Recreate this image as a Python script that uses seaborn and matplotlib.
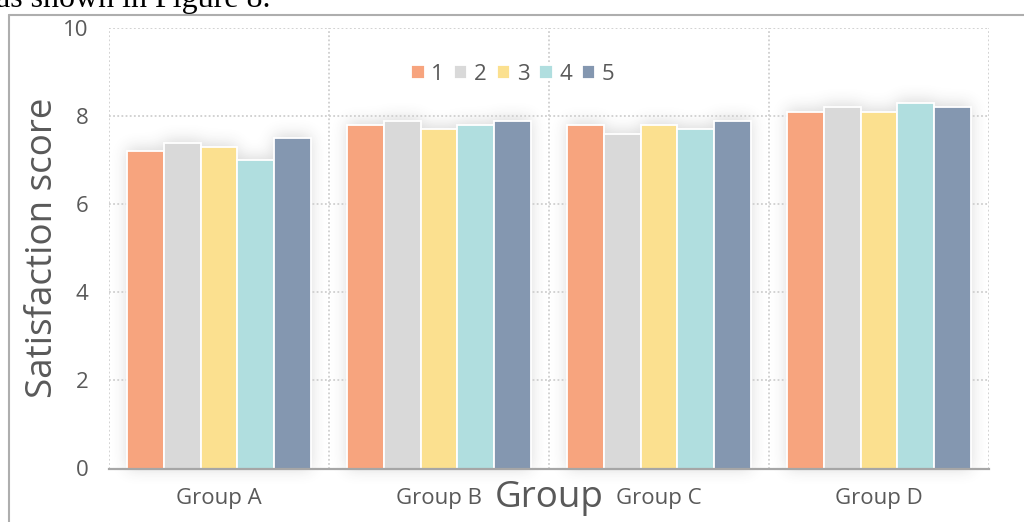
import numpy as np
import pandas as pd
import matplotlib
matplotlib.use("Agg")
import matplotlib.pyplot as plt
from matplotlib.lines import Line2D
import seaborn as sns

# Satisfaction scores per group for five response sets
groups = ["Group A", "Group B", "Group C", "Group D"]
series = ["1", "2", "3", "4", "5"]
scores_1 = [7.2, 7.8, 7.8, 8.1]
scores_2 = [7.4, 7.9, 7.6, 8.2]
scores_3 = [7.3, 7.7, 7.8, 8.1]
scores_4 = [7.0, 7.8, 7.7, 8.3]
scores_5 = [7.5, 7.9, 7.9, 8.2]
y_ticks = [0, 2, 4, 6, 8, 10]

colors = ["#F7A47E", "#D9D9D9", "#FBE08F", "#B0DEDF", "#8497B0"]
text_gray = "#595959"

rows = []
for s, vals in zip(series, [scores_1, scores_2, scores_3, scores_4, scores_5]):
    for g, v in zip(groups, vals):
        rows.append({"group": g, "series": s, "score": v})
df = pd.DataFrame(rows)

sns.set_theme(style="white")
plt.rcParams["font.family"] = ["Open Sans", "DejaVu Sans"]

W, H = 1024, 522
fig = plt.figure(figsize=(W / 100, H / 100), dpi=100)
fig.patch.set_facecolor("white")
ax = fig.add_axes([109 / W, 1 - 468.5 / H, 880 / W, 440.5 / H])
ax.patch.set_alpha(0)

sns.barplot(data=df, x="group", y="score", hue="series", order=groups,
            hue_order=series, palette=colors, saturation=1, width=0.84,
            edgecolor="white", linewidth=1.3, errorbar=None, ax=ax, zorder=3)

ax.set_xlim(-0.5, len(groups) - 0.5)
ax.set_ylim(0, 10)
ax.set_yticks(y_ticks)
ax.set_xticks(np.arange(-0.5, len(groups)), minor=True)

# dotted grid: horizontal at the score ticks, vertical between groups
grid_kw = dict(color="#CFCFCF", linestyle=(0, (1, 1.3)), linewidth=1.3)
ax.grid(axis="y", which="major", **grid_kw)
ax.grid(axis="x", which="minor", **grid_kw)
ax.grid(axis="x", which="major", visible=False)
ax.set_axisbelow(True)

for side in ["left", "right", "top"]:
    ax.spines[side].set_visible(False)
ax.spines["bottom"].set_color("#A6A6A6")
ax.spines["bottom"].set_linewidth(1.6)
ax.spines["bottom"].set_zorder(5)

ax.tick_params(axis="both", which="both", length=0, colors=text_gray)
ax.tick_params(axis="y", labelsize=16, pad=15)
ax.tick_params(axis="x", labelsize=16, pad=14)

ax.set_ylabel("Satisfaction score", fontsize=26.5, color=text_gray)
ax.yaxis.set_label_coords(-48 / 880, 0.5)
ax.set_xlabel("Group", fontsize=26.5, color=text_gray, va="center")
ax.xaxis.set_label_coords(0.5, -29 / 440.5)

sns.move_legend(ax, "center", bbox_to_anchor=(0.459, 1 - 46 / 440.5),
                ncol=5, frameon=False, title=None, fontsize=16,
                handlelength=0.6, handleheight=0.6, handletextpad=0.3,
                columnspacing=0.45, labelcolor=text_gray)

# soft halo around the bars
fig.canvas.draw()
mask = np.zeros((H, W))
for p in ax.patches:
    bb = p.get_window_extent()
    if bb.width <= 0 or bb.height <= 0:
        continue
    x0, x1 = int(round(bb.x0)), int(round(bb.x1))
    y0, y1 = int(round(bb.y0)), int(round(bb.y1))
    mask[max(H - y1 - 3, 0):H - y0, x0:x1] = 1.0
sigma = 7.5
k = np.exp(-0.5 * (np.arange(-26, 27) / sigma) ** 2)
k /= k.sum()
blur = np.apply_along_axis(lambda r: np.convolve(r, k, mode="same"), 1, mask)
blur = np.apply_along_axis(lambda c: np.convolve(c, k, mode="same"), 0, blur)
shadow = np.zeros((H, W, 4))
shadow[..., :3] = 0.25
shadow[..., 3] = np.clip(blur * 0.2, 0, 1)
fig.figimage(shadow, xo=0, yo=0, origin="upper", zorder=-1)

# surrounding page: frame edge and a line of body text above it
fig.add_artist(Line2D([8.5 / W, 8.5 / W], [0, 1 - 14.5 / H],
                      color="#AEAEAE", linewidth=1.5))
fig.add_artist(Line2D([8.5 / W, 1], [1 - 14.5 / H, 1 - 14.5 / H],
                      color="#AEAEAE", linewidth=1.5))
fig.text(-4 / W, 1 - 7.5 / H, "as shown in Figure 8.", fontsize=23,
         family=["Liberation Serif", "DejaVu Serif"], color="black",
         ha="left", va="baseline")

fig.savefig("out.png", dpi=100)
